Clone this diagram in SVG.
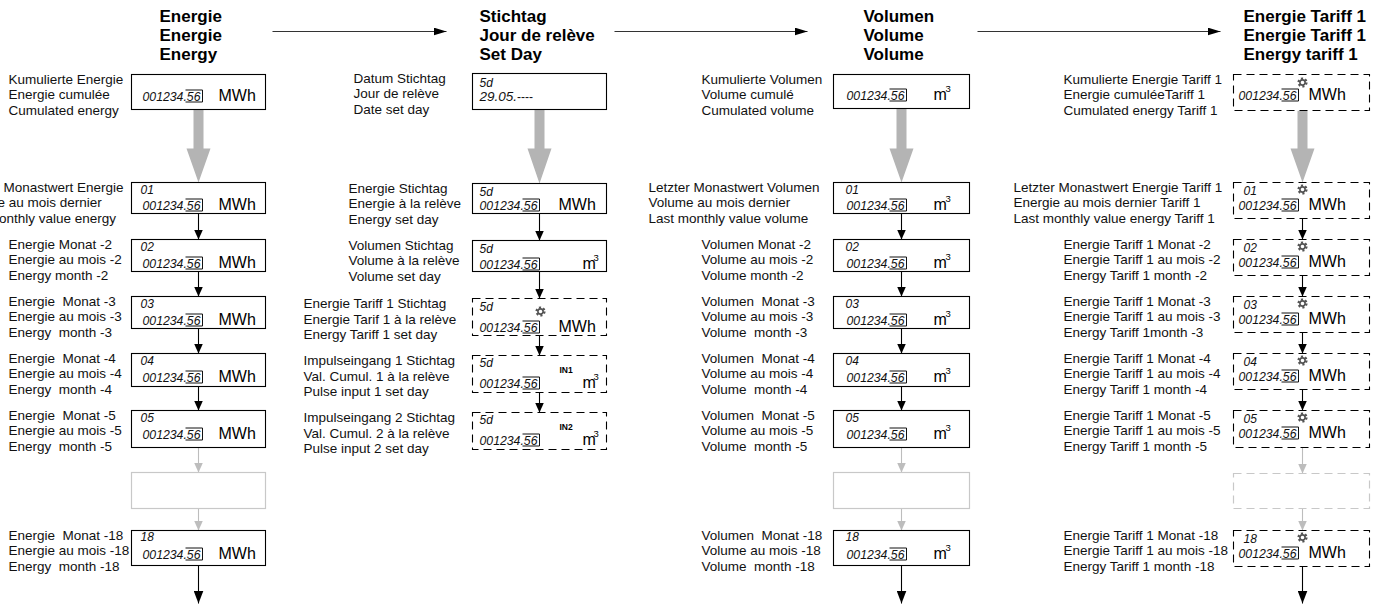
<svg xmlns="http://www.w3.org/2000/svg" xmlns:xlink="http://www.w3.org/1999/xlink" width="1381" height="605" viewBox="0 0 1381 605">
<style>
.lbl{font-family:"Liberation Sans",Arial,sans-serif;font-size:13.5px;fill:#111}
.ttl{font-family:"Liberation Sans",Arial,sans-serif;font-size:17px;font-weight:bold;fill:#000}
.seg{font-family:"Liberation Sans",Arial,sans-serif;font-style:italic;font-size:13.5px;fill:#111}
.num{font-family:"Liberation Sans",Arial,sans-serif;font-style:italic;font-size:12px;fill:#111}
.dash{font-family:"Liberation Sans",Arial,sans-serif;font-style:normal;font-size:12px;fill:#111}
.unit{font-family:"Liberation Sans",Arial,sans-serif;font-size:16px;fill:#000}
.sup{font-family:"Liberation Sans",Arial,sans-serif;font-size:9.5px;fill:#000}
.in{font-family:"Liberation Sans",Arial,sans-serif;font-size:8.5px;font-weight:bold;fill:#000}
.box{fill:#fff;stroke:#000;stroke-width:1.1}
.dbox{fill:#fff;stroke:#000;stroke-width:1.1;stroke-dasharray:8 5}
.gbox{fill:#fff;stroke:#c8c8c8;stroke-width:1.2}
.gdbox{fill:#fff;stroke:#c8c8c8;stroke-width:1.2;stroke-dasharray:8 5}
.brk{fill:none;stroke:#111;stroke-width:1}
.ln{stroke:#000;stroke-width:1.1;fill:none}
.gln{stroke:#bdbdbd;stroke-width:1.1;fill:none}
.hln{stroke:#333;stroke-width:1.1;fill:none}
.big{fill:#b4b4b4}
</style>
<defs>
<marker id="ab" viewBox="0 0 10 9" refX="10" refY="4.5" markerWidth="10" markerHeight="9" markerUnits="userSpaceOnUse" orient="auto"><path d="M0,0 L10,4.5 L0,9 z" fill="#000"/></marker>
<marker id="ag" viewBox="0 0 10 9" refX="10" refY="4.5" markerWidth="10" markerHeight="9" markerUnits="userSpaceOnUse" orient="auto"><path d="M0,0 L10,4.5 L0,9 z" fill="#bdbdbd"/></marker>
<marker id="ab2" viewBox="0 0 13 10" refX="13" refY="5" markerWidth="13" markerHeight="10" markerUnits="userSpaceOnUse" orient="auto"><path d="M0,0 L13,5 L0,10 z" fill="#000"/></marker>
<marker id="ah" viewBox="0 0 13 8" refX="13" refY="4" markerWidth="13" markerHeight="8" markerUnits="userSpaceOnUse" orient="auto"><path d="M0,0 L13,4 L0,8 z" fill="#000"/></marker>
<g id="gear"><circle r="3.8" fill="none" stroke="#555" stroke-width="2.6" stroke-dasharray="2 2"/><circle r="2.6" fill="none" stroke="#555" stroke-width="1.6"/></g>
<g id="dg"><text class="seg" x="0" y="0" textLength="58" lengthAdjust="spacingAndGlyphs">001234.56</text><path class="brk" d="M43,-10.5 H60 V1.5 H43"/></g>
</defs>
<g transform="translate(0.5 0.5)">
<g id="titles">
<text class="ttl" x="159" y="21">Energie</text>
<text class="ttl" x="159" y="40">Energie</text>
<text class="ttl" x="159" y="59">Energy</text>
<text class="ttl" x="479" y="21">Stichtag</text>
<text class="ttl" x="479" y="40">Jour de relève</text>
<text class="ttl" x="479" y="59">Set Day</text>
<text class="ttl" x="863" y="21">Volumen</text>
<text class="ttl" x="863" y="40">Volume</text>
<text class="ttl" x="863" y="59">Volume</text>
<text class="ttl" x="1243" y="21">Energie Tariff 1</text>
<text class="ttl" x="1243" y="40">Energie Tariff 1</text>
<text class="ttl" x="1243" y="59">Energy tariff 1</text>
</g>

<g id="connectors">
<line class="hln" x1="272" y1="31" x2="446" y2="31" marker-end="url(#ah)"/>
<line class="hln" x1="614" y1="31" x2="807" y2="31" marker-end="url(#ah)"/>
<line class="hln" x1="977" y1="31" x2="1220" y2="31" marker-end="url(#ah)"/>
<path class="big" d="M193,109 H203 V148 H210 L198,182 L186,148 H193 Z"/>
<line class="ln" x1="198" y1="213" x2="198" y2="239" marker-end="url(#ab)"/>
<line class="ln" x1="198" y1="271" x2="198" y2="296" marker-end="url(#ab)"/>
<line class="ln" x1="198" y1="328" x2="198" y2="353" marker-end="url(#ab)"/>
<line class="ln" x1="198" y1="386" x2="198" y2="410" marker-end="url(#ab)"/>
<line class="gln" x1="198" y1="447" x2="198" y2="472" marker-end="url(#ag)"/>
<line class="gln" x1="198" y1="508" x2="198" y2="530" marker-end="url(#ag)"/>
<line class="ln" x1="198" y1="565" x2="198" y2="603" marker-end="url(#ab2)"/>
<path class="big" d="M534,109 H544 V148 H551 L539,183 L527,148 H534 Z"/>
<line class="ln" x1="539" y1="213" x2="539" y2="240" marker-end="url(#ab)"/>
<line class="ln" x1="539" y1="271" x2="539" y2="298" marker-end="url(#ab)"/>
<line class="ln" x1="539" y1="335" x2="539" y2="355" marker-end="url(#ab)"/>
<line class="ln" x1="539" y1="392" x2="539" y2="412" marker-end="url(#ab)"/>
<path class="big" d="M896,108 H906 V148 H913 L901,182 L889,148 H896 Z"/>
<line class="ln" x1="901" y1="213" x2="901" y2="239" marker-end="url(#ab)"/>
<line class="ln" x1="901" y1="271" x2="901" y2="296" marker-end="url(#ab)"/>
<line class="ln" x1="901" y1="328" x2="901" y2="353" marker-end="url(#ab)"/>
<line class="ln" x1="901" y1="386" x2="901" y2="410" marker-end="url(#ab)"/>
<line class="gln" x1="901" y1="447" x2="901" y2="472" marker-end="url(#ag)"/>
<line class="gln" x1="901" y1="508" x2="901" y2="530" marker-end="url(#ag)"/>
<line class="ln" x1="901" y1="565" x2="901" y2="603" marker-end="url(#ab2)"/>
<path class="big" d="M1297,110 H1307 V148 H1314 L1302,182 L1290,148 H1297 Z"/>
<line class="ln" x1="1302" y1="218" x2="1302" y2="239" marker-end="url(#ab)"/>
<line class="ln" x1="1302" y1="275" x2="1302" y2="296" marker-end="url(#ab)"/>
<line class="ln" x1="1302" y1="332" x2="1302" y2="353" marker-end="url(#ab)"/>
<line class="ln" x1="1302" y1="389" x2="1302" y2="410" marker-end="url(#ab)"/>
<line class="gln" x1="1302" y1="447" x2="1302" y2="473" marker-end="url(#ag)"/>
<line class="gln" x1="1302" y1="508" x2="1302" y2="530" marker-end="url(#ag)"/>
<line class="ln" x1="1302" y1="566" x2="1302" y2="603" marker-end="url(#ab2)"/>
</g>

<g id="e-cum">
<rect class="box" x="131" y="74" width="134" height="35"/>
<use href="#dg" x="142" y="100"/><text class="unit" x="218" y="100">MWh</text>
<text class="lbl" x="8" y="83">Kumulierte Energie</text>
<text class="lbl" x="8" y="98.5">Energie cumulée</text>
<text class="lbl" x="8" y="114">Cumulated energy</text>
</g>
<g id="e-01">
<rect class="box" x="131" y="182" width="134" height="31"/>
<text class="num" x="140" y="193">01</text>
<use href="#dg" x="142" y="209"/><text class="unit" x="218" y="209">MWh</text>
<text class="lbl" x="-42" y="191">Letzter Monastwert Energie</text>
<text class="lbl" x="-42" y="206.5">Energie au mois dernier</text>
<text class="lbl" x="-42" y="222">Last monthly value energy</text>
</g>
<g id="e-02">
<rect class="box" x="131" y="239" width="134" height="32"/>
<text class="num" x="140" y="250">02</text>
<use href="#dg" x="142" y="267"/><text class="unit" x="218" y="267">MWh</text>
<text class="lbl" x="8" y="248" xml:space="preserve">Energie Monat -2</text>
<text class="lbl" x="8" y="263.5" xml:space="preserve">Energie au mois -2</text>
<text class="lbl" x="8" y="279" xml:space="preserve">Energy month -2</text>
</g>
<g id="e-03">
<rect class="box" x="131" y="296" width="134" height="32"/>
<text class="num" x="140" y="307">03</text>
<use href="#dg" x="142" y="324"/><text class="unit" x="218" y="324">MWh</text>
<text class="lbl" x="8" y="305" xml:space="preserve">Energie  Monat -3</text>
<text class="lbl" x="8" y="320.5" xml:space="preserve">Energie au mois -3</text>
<text class="lbl" x="8" y="336" xml:space="preserve">Energy  month -3</text>
</g>
<g id="e-04">
<rect class="box" x="131" y="353" width="134" height="33"/>
<text class="num" x="140" y="364">04</text>
<use href="#dg" x="142" y="381"/><text class="unit" x="218" y="381">MWh</text>
<text class="lbl" x="8" y="362" xml:space="preserve">Energie  Monat -4</text>
<text class="lbl" x="8" y="377.5" xml:space="preserve">Energie au mois -4</text>
<text class="lbl" x="8" y="393" xml:space="preserve">Energy  month -4</text>
</g>
<g id="e-05">
<rect class="box" x="131" y="410" width="134" height="37"/>
<text class="num" x="140" y="421">05</text>
<use href="#dg" x="142" y="438"/><text class="unit" x="218" y="438">MWh</text>
<text class="lbl" x="8" y="419" xml:space="preserve">Energie  Monat -5</text>
<text class="lbl" x="8" y="434.5" xml:space="preserve">Energie au mois -5</text>
<text class="lbl" x="8" y="450" xml:space="preserve">Energy  month -5</text>
</g>
<g id="e-gap"><rect class="gbox" x="131" y="472" width="134" height="36"/></g>
<g id="e-18">
<rect class="box" x="131" y="530" width="134" height="35"/>
<text class="num" x="140" y="540">18</text>
<use href="#dg" x="142" y="558"/><text class="unit" x="218" y="558">MWh</text>
<text class="lbl" x="8" y="539" xml:space="preserve">Energie  Monat -18</text>
<text class="lbl" x="8" y="554.5" xml:space="preserve">Energie au mois -18</text>
<text class="lbl" x="8" y="570" xml:space="preserve">Energy  month -18</text>
</g>

<g id="s-date">
<rect class="box" x="472" y="73" width="134" height="36"/>
<text class="num" x="479" y="86">5d</text>
<text class="seg" x="479" y="100">29.05.<tspan class="dash">----</tspan></text>
<text class="lbl" x="353" y="82">Datum Stichtag</text>
<text class="lbl" x="353" y="97.5">Jour de relève</text>
<text class="lbl" x="353" y="113">Date set day</text>
</g>
<g id="s-energy">
<rect class="box" x="472" y="183" width="134" height="30"/>
<text class="num" x="479" y="195">5d</text>
<use href="#dg" x="479" y="209"/><text class="unit" x="558" y="209">MWh</text>
<text class="lbl" x="348" y="192">Energie Stichtag</text>
<text class="lbl" x="348" y="207.5">Energie à la relève</text>
<text class="lbl" x="348" y="223">Energy set day</text>
</g>
<g id="s-volume">
<rect class="box" x="472" y="240" width="134" height="31"/>
<text class="num" x="479" y="252">5d</text>
<use href="#dg" x="479" y="268"/><text class="unit" x="582" y="268">m</text><text class="sup" x="593" y="260">3</text>
<text class="lbl" x="348" y="249">Volumen Stichtag</text>
<text class="lbl" x="348" y="264.5">Volume à la relève</text>
<text class="lbl" x="348" y="280">Volume set day</text>
</g>
<g id="s-tariff">
<rect class="dbox" x="472" y="298" width="134" height="37"/>
<text class="num" x="479" y="310">5d</text>
<use href="#gear" x="540" y="311"/>
<use href="#dg" x="479" y="331"/><text class="unit" x="558" y="331">MWh</text>
<text class="lbl" x="303" y="307.5">Energie Tariff 1 Stichtag</text>
<text class="lbl" x="303" y="323">Energie Tarif 1 à la relève</text>
<text class="lbl" x="303" y="338.5">Energy Tariff 1 set day</text>
</g>
<g id="s-in1">
<rect class="dbox" x="472" y="355" width="134" height="37"/>
<text class="num" x="479" y="366">5d</text>
<text class="in" x="559" y="372">IN1</text>
<use href="#dg" x="479" y="387"/><text class="unit" x="582" y="387">m</text><text class="sup" x="593" y="379">3</text>
<text class="lbl" x="303" y="364.5">Impulseingang 1 Stichtag</text>
<text class="lbl" x="303" y="380">Val. Cumul. 1 à la relève</text>
<text class="lbl" x="303" y="395.5">Pulse input 1 set day</text>
</g>
<g id="s-in2">
<rect class="dbox" x="472" y="412" width="134" height="37"/>
<text class="num" x="479" y="423">5d</text>
<text class="in" x="559" y="429">IN2</text>
<use href="#dg" x="479" y="444"/><text class="unit" x="582" y="444">m</text><text class="sup" x="593" y="436">3</text>
<text class="lbl" x="303" y="421.5">Impulseingang 2 Stichtag</text>
<text class="lbl" x="303" y="437">Val. Cumul. 2 à la relève</text>
<text class="lbl" x="303" y="452.5">Pulse input 2 set day</text>
</g>

<g id="v-cum">
<rect class="box" x="833" y="74" width="136" height="34"/>
<use href="#dg" x="846" y="99"/><text class="unit" x="933" y="99">m</text><text class="sup" x="945" y="91">3</text>
<text class="lbl" x="701" y="83">Kumulierte Volumen</text>
<text class="lbl" x="701" y="98.5">Volume cumulé</text>
<text class="lbl" x="701" y="114">Cumulated volume</text>
</g>
<g id="v-01">
<rect class="box" x="833" y="182" width="136" height="31"/>
<text class="num" x="845" y="193">01</text>
<use href="#dg" x="846" y="209"/><text class="unit" x="933" y="209">m</text><text class="sup" x="945" y="201">3</text>
<text class="lbl" x="648" y="191">Letzter Monastwert Volumen</text>
<text class="lbl" x="648" y="206.5">Volume au mois dernier</text>
<text class="lbl" x="648" y="222">Last monthly value volume</text>
</g>
<g id="v-02">
<rect class="box" x="833" y="239" width="136" height="32"/>
<text class="num" x="845" y="250">02</text>
<use href="#dg" x="846" y="267"/><text class="unit" x="933" y="267">m</text><text class="sup" x="945" y="259">3</text>
<text class="lbl" x="701" y="248" xml:space="preserve">Volumen Monat -2</text>
<text class="lbl" x="701" y="263.5" xml:space="preserve">Volume au mois -2</text>
<text class="lbl" x="701" y="279" xml:space="preserve">Volume month -2</text>
</g>
<g id="v-03">
<rect class="box" x="833" y="296" width="136" height="32"/>
<text class="num" x="845" y="307">03</text>
<use href="#dg" x="846" y="324"/><text class="unit" x="933" y="324">m</text><text class="sup" x="945" y="316">3</text>
<text class="lbl" x="701" y="305" xml:space="preserve">Volumen  Monat -3</text>
<text class="lbl" x="701" y="320.5" xml:space="preserve">Volume au mois -3</text>
<text class="lbl" x="701" y="336" xml:space="preserve">Volume  month -3</text>
</g>
<g id="v-04">
<rect class="box" x="833" y="353" width="136" height="33"/>
<text class="num" x="845" y="364">04</text>
<use href="#dg" x="846" y="381"/><text class="unit" x="933" y="381">m</text><text class="sup" x="945" y="373">3</text>
<text class="lbl" x="701" y="362" xml:space="preserve">Volumen  Monat -4</text>
<text class="lbl" x="701" y="377.5" xml:space="preserve">Volume au mois -4</text>
<text class="lbl" x="701" y="393" xml:space="preserve">Volume  month -4</text>
</g>
<g id="v-05">
<rect class="box" x="833" y="410" width="136" height="37"/>
<text class="num" x="845" y="421">05</text>
<use href="#dg" x="846" y="438"/><text class="unit" x="933" y="438">m</text><text class="sup" x="945" y="430">3</text>
<text class="lbl" x="701" y="419" xml:space="preserve">Volumen  Monat -5</text>
<text class="lbl" x="701" y="434.5" xml:space="preserve">Volume au mois -5</text>
<text class="lbl" x="701" y="450" xml:space="preserve">Volume  month -5</text>
</g>
<g id="v-gap"><rect class="gbox" x="833" y="472" width="136" height="36"/></g>
<g id="v-18">
<rect class="box" x="833" y="530" width="136" height="35"/>
<text class="num" x="845" y="540">18</text>
<use href="#dg" x="846" y="558"/><text class="unit" x="933" y="558">m</text><text class="sup" x="945" y="550">3</text>
<text class="lbl" x="701" y="539" xml:space="preserve">Volumen  Monat -18</text>
<text class="lbl" x="701" y="554.5" xml:space="preserve">Volume au mois -18</text>
<text class="lbl" x="701" y="570" xml:space="preserve">Volume  month -18</text>
</g>

<g id="t-cum">
<rect class="dbox" x="1233" y="74" width="136" height="36"/>
<use href="#gear" x="1302" y="82"/>
<use href="#dg" x="1238" y="99"/><text class="unit" x="1308" y="99">MWh</text>
<text class="lbl" x="1063" y="83">Kumulierte Energie Tariff 1</text>
<text class="lbl" x="1063" y="98.5">Energie cumuléeTariff 1</text>
<text class="lbl" x="1063" y="114">Cumulated energy Tariff 1</text>
</g>
<g id="t-01">
<rect class="dbox" x="1233" y="182" width="136" height="36"/>
<text class="num" x="1243" y="194">01</text>
<use href="#gear" x="1302" y="189"/>
<use href="#dg" x="1238" y="209"/><text class="unit" x="1308" y="209">MWh</text>
<text class="lbl" x="1013" y="191">Letzter Monastwert Energie Tariff 1</text>
<text class="lbl" x="1013" y="206.5">Energie au mois dernier Tariff 1</text>
<text class="lbl" x="1013" y="222">Last monthly value energy Tariff 1</text>
</g>
<g id="t-02">
<rect class="dbox" x="1233" y="239" width="136" height="36"/>
<text class="num" x="1243" y="251">02</text>
<use href="#gear" x="1302" y="246"/>
<use href="#dg" x="1238" y="266"/><text class="unit" x="1308" y="266">MWh</text>
<text class="lbl" x="1063" y="248">Energie Tariff 1 Monat -2</text>
<text class="lbl" x="1063" y="263.5">Energie Tariff 1 au mois -2</text>
<text class="lbl" x="1063" y="279">Energy Tariff 1 month -2</text>
</g>
<g id="t-03">
<rect class="dbox" x="1233" y="296" width="136" height="36"/>
<text class="num" x="1243" y="308">03</text>
<use href="#gear" x="1302" y="303"/>
<use href="#dg" x="1238" y="323"/><text class="unit" x="1308" y="323">MWh</text>
<text class="lbl" x="1063" y="305">Energie Tariff 1 Monat -3</text>
<text class="lbl" x="1063" y="320.5">Energie Tariff 1 au mois -3</text>
<text class="lbl" x="1063" y="336">Energy Tariff 1month -3</text>
</g>
<g id="t-04">
<rect class="dbox" x="1233" y="353" width="136" height="36"/>
<text class="num" x="1243" y="365">04</text>
<use href="#gear" x="1302" y="360"/>
<use href="#dg" x="1238" y="380"/><text class="unit" x="1308" y="380">MWh</text>
<text class="lbl" x="1063" y="362">Energie Tariff 1 Monat -4</text>
<text class="lbl" x="1063" y="377.5">Energie Tariff 1 au mois -4</text>
<text class="lbl" x="1063" y="393">Energy Tariff 1 month -4</text>
</g>
<g id="t-05">
<rect class="dbox" x="1233" y="410" width="136" height="37"/>
<text class="num" x="1243" y="422">05</text>
<use href="#gear" x="1302" y="417"/>
<use href="#dg" x="1238" y="437"/><text class="unit" x="1308" y="437">MWh</text>
<text class="lbl" x="1063" y="419">Energie Tariff 1 Monat -5</text>
<text class="lbl" x="1063" y="434.5">Energie Tariff 1 au mois -5</text>
<text class="lbl" x="1063" y="450">Energy Tariff 1 month -5</text>
</g>
<g id="t-gap"><rect class="gdbox" x="1233" y="473" width="136" height="35"/></g>
<g id="t-18">
<rect class="dbox" x="1233" y="530" width="136" height="36"/>
<text class="num" x="1243" y="542">18</text>
<use href="#gear" x="1302" y="537"/>
<use href="#dg" x="1238" y="557"/><text class="unit" x="1308" y="557">MWh</text>
<text class="lbl" x="1063" y="539">Energie Tariff 1 Monat -18</text>
<text class="lbl" x="1063" y="554.5">Energie Tariff 1 au mois -18</text>
<text class="lbl" x="1063" y="570">Energy Tariff 1 month -18</text>
</g>
</g>
</svg>
